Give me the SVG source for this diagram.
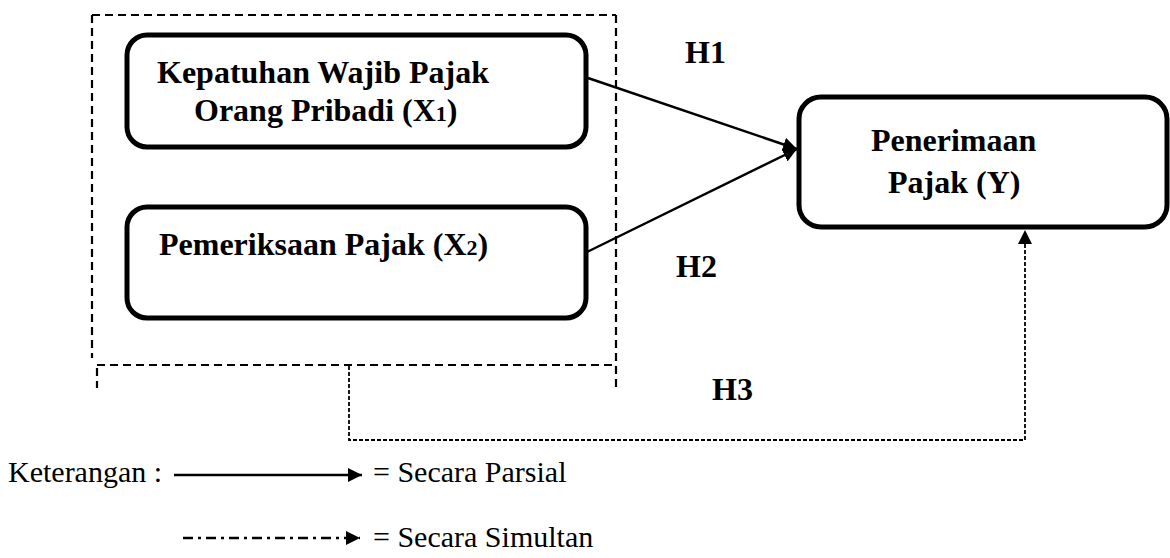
<svg xmlns="http://www.w3.org/2000/svg" width="1170" height="558" viewBox="0 0 1170 558">
<style>
.box{fill:#fff;stroke:#000;stroke-width:5}
.b{font-family:"Liberation Serif","Times New Roman",serif;font-weight:bold;font-size:32px;fill:#000}
.r{font-family:"Liberation Serif","Times New Roman",serif;font-size:30px;fill:#000}
.solid{stroke:#000;stroke-width:2.4;fill:none}
.dash{stroke:#000;stroke-width:2.2;fill:none;stroke-dasharray:8,5}
.fine{stroke:#000;stroke-width:1.8;fill:none;stroke-dasharray:4,2}
.dd{stroke:#000;stroke-width:2.6;fill:none;stroke-dasharray:10,5,3,5}
</style>
<defs>
<marker id="ahL" viewBox="0 0 10 10" refX="10" refY="5" markerWidth="14" markerHeight="14" orient="auto" markerUnits="userSpaceOnUse">
<path d="M0,0 L10,5 L0,10 z" fill="#000"/>
</marker>
</defs>
<g id="group-frame">
<path class="dash" d="M92,15 H616 M92,15 V358 M97,365 H616 M97,368 V388 M616,15 V388"/>
</g>
<g id="node-x1">
<rect class="box" x="127" y="35" width="459" height="112" rx="20"/>
<text class="b" x="157" y="83">Kepatuhan Wajib Pajak</text>
<text class="b" x="194" y="121">Orang Pribadi (X<tspan font-size="22">1</tspan>)</text>
</g>
<g id="node-x2">
<rect class="box" x="127" y="207" width="459" height="111" rx="20"/>
<text class="b" x="159" y="255">Pemeriksaan Pajak (X<tspan font-size="22">2</tspan>)</text>
</g>
<g id="node-y">
<rect class="box" x="799" y="97" width="368" height="130" rx="22"/>
<text class="b" x="871" y="151">Penerimaan</text>
<text class="b" x="888" y="193">Pajak (Y)</text>
</g>
<g id="connectors">
<line class="solid" x1="588" y1="78" x2="797" y2="149" marker-end="url(#ahL)"/>
<line class="solid" x1="587" y1="252" x2="797" y2="149" marker-end="url(#ahL)"/>
<path class="fine" d="M349,366 V440 H1025 V230" marker-end="url(#ahL)"/>
</g>
<g id="labels">
<text class="b" x="685" y="63">H1</text>
<text class="b" x="676" y="277">H2</text>
<text class="b" x="712" y="400">H3</text>
</g>
<g id="legend">
<text class="r" x="8" y="482">Keterangan :</text>
<line class="solid" x1="174" y1="475" x2="362" y2="475" marker-end="url(#ahL)"/>
<text class="r" x="373" y="482">= Secara Parsial</text>
<line class="dd" x1="183" y1="538" x2="360" y2="538" marker-end="url(#ahL)"/>
<text class="r" x="373" y="547">= Secara Simultan</text>
</g>
</svg>
